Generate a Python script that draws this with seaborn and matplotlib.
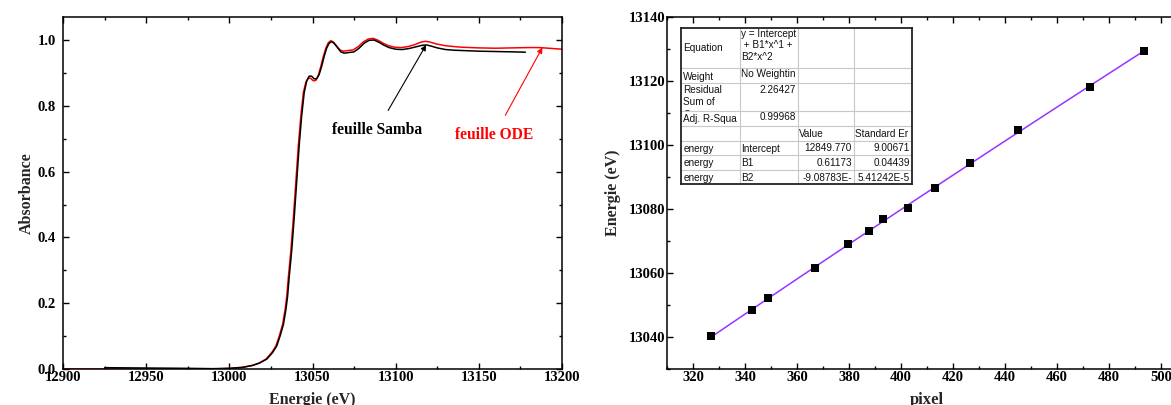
import numpy as np
import pandas as pd
import matplotlib
matplotlib.use("Agg")
import matplotlib.pyplot as plt
from matplotlib.ticker import MultipleLocator
from matplotlib.transforms import Bbox, TransformedBbox
import seaborn as sns

# spectre XANES, feuille Samba (noir)
energie_samba = [12925, 12950, 12975, 12990, 13000, 13008, 13014, 13018, 13022.5, 13026,
                 13028.5, 13030.5, 13032.5, 13034, 13035, 13036, 13037.5, 13039, 13040.5, 13042,
                 13043.5, 13045, 13046.5, 13048, 13049.5, 13051, 13052.5, 13054, 13055.5, 13057,
                 13058.5, 13060, 13061.5, 13063, 13065, 13067, 13069, 13072, 13075, 13078,
                 13081, 13084, 13087, 13090, 13093, 13096, 13100, 13104, 13108, 13112,
                 13116, 13118.5, 13121, 13125, 13130, 13135, 13140, 13150, 13160, 13170, 13178]
abs_samba = [0.004, 0.003, 0.002, 0.001, 0.002, 0.005, 0.011, 0.018, 0.03, 0.05,
             0.07, 0.1, 0.135, 0.18, 0.22, 0.28, 0.36, 0.46, 0.57, 0.68,
             0.77, 0.84, 0.875, 0.89, 0.89, 0.882, 0.882, 0.895, 0.92, 0.95,
             0.975, 0.99, 0.995, 0.99, 0.977, 0.964, 0.96, 0.962, 0.964, 0.975,
             0.99, 0.999, 1.0, 0.993, 0.984, 0.977, 0.972, 0.971, 0.974, 0.979,
             0.984, 0.985, 0.982, 0.976, 0.971, 0.969, 0.968, 0.966, 0.965, 0.964, 0.963]

# spectre XANES, feuille ODE (rouge)
energie_ode = [12900, 12925, 12950, 12975, 12990, 13000, 13008, 13014, 13018, 13022,
               13025.5, 13028, 13030, 13032, 13033.5, 13034.5, 13035.5, 13037, 13038.5, 13040,
               13041.5, 13043, 13044.5, 13046, 13047.5, 13049, 13050.5, 13052, 13053.5, 13055,
               13056.5, 13058, 13059.5, 13061, 13062.5, 13064.5, 13066.5, 13068.5, 13071.5, 13074.5,
               13077.5, 13080.5, 13083.5, 13086.5, 13089.5, 13092.5, 13095.5, 13099.5, 13103.5, 13107.5,
               13111.5, 13115.5, 13118, 13120.5, 13124.5, 13129.5, 13135, 13140, 13150, 13160,
               13170, 13180, 13186, 13192, 13200]
abs_ode = [0.0, 0.0, 0.0, 0.0, 0.0, 0.002, 0.005, 0.011, 0.018, 0.03,
           0.05, 0.07, 0.1, 0.135, 0.18, 0.22, 0.28, 0.36, 0.46, 0.57,
           0.68, 0.77, 0.84, 0.872, 0.885, 0.883, 0.876, 0.877, 0.893, 0.92,
           0.95, 0.975, 0.992, 0.998, 0.994, 0.982, 0.97, 0.966, 0.968, 0.97,
           0.98, 0.994, 1.003, 1.005, 0.999, 0.99, 0.983, 0.978, 0.977, 0.98,
           0.986, 0.994, 0.996, 0.994, 0.988, 0.983, 0.98, 0.978, 0.976, 0.975,
           0.976, 0.977, 0.977, 0.975, 0.972]

# calibration pixel -> energie
pixel = [327.0, 342.6, 349.0, 367.0, 379.8, 387.7, 393.1, 402.6, 413.2, 426.6, 445.1, 472.6, 493.5]
energie_cal = [13040.4, 13048.3, 13052.1, 13061.6, 13069.0, 13073.2, 13076.9, 13080.5,
               13086.6, 13094.5, 13104.7, 13118.3, 13129.4]

# tableau de resultats du fit
fit_rows = [
    ["Equation", "y = Intercept\n + B1*x^1 +\nB2*x^2", "", ""],
    ["Weight", "No Weightin", "", ""],
    ["Residual\nSum of\nSquares", "2.26427", "", ""],
    ["Adj. R-Squa", "0.99968", "", ""],
    ["", "", "Value", "Standard Er"],
    ["energy", "Intercept", "12849.770", "9.00671"],
    ["energy", "B1", "0.61173", "0.04439"],
    ["energy", "B2", "-9.08783E-", "5.41242E-5"],
]

sns.set_style("ticks")
plt.rcParams['font.family'] = ['Liberation Serif', 'DejaVu Serif']
plt.rcParams['font.weight'] = 'bold'
plt.rcParams['axes.labelweight'] = 'bold'
plt.rcParams['axes.linewidth'] = 1.1

fig = plt.figure(figsize=(11.71, 4.05), dpi=100)
W, H = 1171, 405
ax1 = fig.add_axes([63 / W, 1 - 369 / H, 499 / W, (369 - 17.3) / H])
ax2 = fig.add_axes([667 / W, 1 - 369 / H, 520 / W, (369 - 17.3) / H])


def style_axis(ax, pad):
    ax.tick_params(which='both', direction='in', top=True, right=True, colors='black',
                   labelsize=10.5, width=1.0)
    ax.tick_params(which='major', length=4.5)
    ax.tick_params(which='minor', length=2.5)
    ax.tick_params(axis='y', pad=pad)
    ax.tick_params(axis='x', pad=1.5)
    for s in ax.spines.values():
        s.set_visible(True)
        s.set_color('black')


# --- gauche : spectres
df_ode = pd.DataFrame({'E': energie_ode, 'A': abs_ode})
df_samba = pd.DataFrame({'E': energie_samba, 'A': abs_samba})
sns.lineplot(data=df_ode, x='E', y='A', ax=ax1, color='red', lw=1.1, sort=False)
sns.lineplot(data=df_samba, x='E', y='A', ax=ax1, color='black', lw=1.1, sort=False)
ax1.set_xlim(12900, 13200)
ax1.set_ylim(0, 1.069)
ax1.xaxis.set_major_locator(MultipleLocator(50))
ax1.xaxis.set_minor_locator(MultipleLocator(25))
ax1.yaxis.set_major_locator(MultipleLocator(0.2))
ax1.yaxis.set_minor_locator(MultipleLocator(0.1))
ax1.yaxis.set_major_formatter(matplotlib.ticker.FormatStrFormatter('%.1f'))
style_axis(ax1, 5)
ax1.set_xlabel("Energie (eV)", fontsize=11.5, labelpad=6)
ax1.set_ylabel("Absorbance", fontsize=11.5, labelpad=2)

ax1.annotate("feuille Samba", xy=(13118.3, 0.985), xytext=(13088.6, 0.726),
             ha='center', va='center', fontsize=11.2, fontweight='bold', color='black',
             arrowprops=dict(arrowstyle='-|>', color='black', lw=0.8,
                             mutation_scale=8, shrinkA=7, shrinkB=0))
ax1.annotate("feuille ODE", xy=(13188.2, 0.977), xytext=(13159.4, 0.711),
             ha='center', va='center', fontsize=11.2, fontweight='bold', color='red',
             arrowprops=dict(arrowstyle='-|>', color='red', lw=0.8,
                             mutation_scale=8, shrinkA=7, shrinkB=0))

# --- droite : calibration
df_cal = pd.DataFrame({'pixel': pixel, 'energie': energie_cal})
sns.regplot(data=df_cal, x='pixel', y='energie', ax=ax2, order=2, ci=None, marker='s',
            scatter_kws={'s': 38, 'color': 'black', 'alpha': 1, 'zorder': 3, 'linewidths': 0},
            line_kws={'color': '#9933ff', 'lw': 1.1, 'zorder': 2})
ax2.set_xlim(310, 510)
ax2.set_ylim(13030, 13140)
ax2.xaxis.set_major_locator(MultipleLocator(20))
ax2.xaxis.set_minor_locator(MultipleLocator(10))
ax2.yaxis.set_major_locator(MultipleLocator(20))
ax2.yaxis.set_minor_locator(MultipleLocator(10))
style_axis(ax2, 1)
ax2.set_xlabel("pixel", fontsize=12, labelpad=6)
ax2.set_ylabel("Energie (eV)", fontsize=11.5, labelpad=6)

# --- tableau du fit
tab = fig.add_axes([680.8 / W, 1 - 184.3 / H, 231.5 / W, 156 / H])
tab.set_xlim(0, 231.5)
tab.set_ylim(156, 0)
tab.set_facecolor('white')
tab.set_xticks([])
tab.set_yticks([])
for s in tab.spines.values():
    s.set_color('#222222')
    s.set_linewidth(1.3)
row_y = [0, 40, 55, 82.4, 97.7, 112.4, 126.7, 141.7, 156]
col_x = [0, 58.9, 117.1, 173, 231.5]
for y in row_y[1:-1]:
    tab.plot([0, 231.5], [y, y], color='#c8c8c8', lw=0.8)
for x in col_x[1:-1]:
    tab.plot([x, x], [0, 156], color='#c8c8c8', lw=0.8)

tfont = dict(family=['Liberation Sans', 'DejaVu Sans'], fontsize=7.2, fontweight='normal',
             color='#111111')
right_cols = {(2, 1), (3, 1), (5, 2), (5, 3), (6, 2), (6, 3), (7, 2), (7, 3)}
for i, row in enumerate(fit_rows):
    y0, y1 = row_y[i], row_y[i + 1]
    for j, txt in enumerate(row):
        if not txt:
            continue
        x0, x1 = col_x[j], col_x[j + 1]
        if i == 0 and j == 0:
            t = tab.text(x0 + 2.5, (y0 + y1) / 2, txt, va='center', ha='left', **tfont)
        elif (i, j) in right_cols:
            yy = y0 + 1.5 if i < 5 else (y0 + y1) / 2 + 0.5
            va = 'top' if i < 5 else 'center'
            t = tab.text(x1 - 2, yy, txt, va=va, ha='right', **tfont)
        elif j == 1 and i < 5:
            t = tab.text(x0 + 1.5, y0 + 1, txt, va='top', ha='left', linespacing=1.15, **tfont)
        elif i == 2:
            t = tab.text(x0 + 2.5, y0 + 1.5, txt, va='top', ha='left', linespacing=1.3, **tfont)
        else:
            t = tab.text(x0 + 2.5 if j == 0 else x0 + 1.5, (y0 + y1) / 2 + 1, txt,
                         va='center', ha='left', **tfont)
        # le texte est coupe au bord de sa cellule
        t.set_clip_path(None)
        t.set_clip_box(TransformedBbox(Bbox([[x0, y0], [x1, y1]]), tab.transData))
        t.set_clip_on(True)

fig.savefig("out.png", dpi=100)
